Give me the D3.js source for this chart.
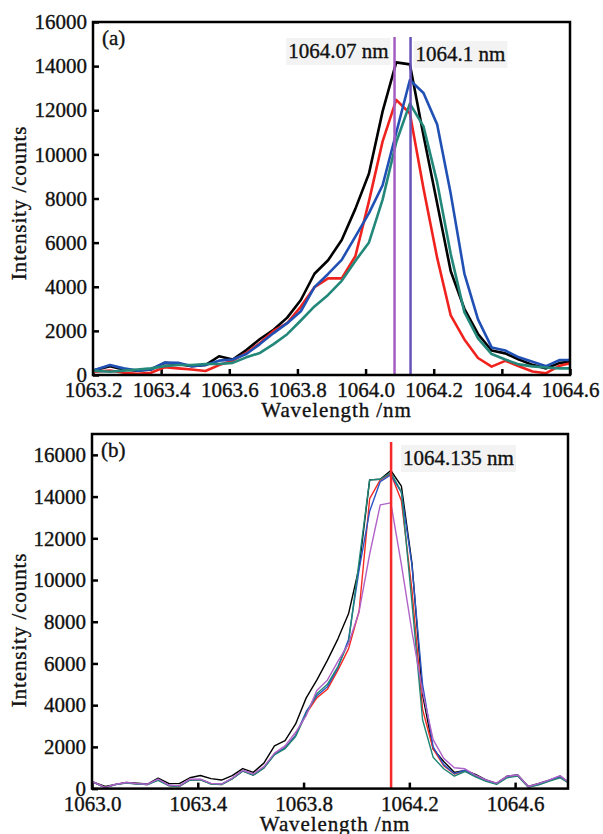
<!DOCTYPE html>
<html lang="en">
<meta charset="utf-8">
<head>
    <title>Laser spectra (a) (b)</title>
    <script src="https://d3js.org/d3.v7.min.js"></script>
    <style>
        body {margin: 0; background: #fff;}
    </style>
</head>
<body>
<div id="chart"></div>
<script>
    // ---- panel (a) data ----
    let wlA = [1063.20, 1063.25, 1063.29, 1063.33, 1063.37, 1063.41, 1063.45, 1063.49, 1063.53, 1063.57,
        1063.61, 1063.65, 1063.69, 1063.73, 1063.77, 1063.81, 1063.85, 1063.89, 1063.93, 1063.97,
        1064.01, 1064.05, 1064.09, 1064.13, 1064.17, 1064.21, 1064.25, 1064.29, 1064.33, 1064.37,
        1064.41, 1064.45, 1064.49, 1064.53, 1064.57, 1064.60];
    let blackA = [200, 400, 250, 200, 250, 550, 500, 400, 450, 850, 700, 1130, 1630, 2050, 2600, 3400, 4590, 5200, 6120, 7530,
        9130, 11950, 14170, 14080, 10860, 7790, 4700, 3000, 1860, 1110, 980, 700, 460, 300, 550, 600];
    let redA = [150, 200, 100, 50, 100, 350, 300, 250, 180, 450, 650, 1000, 1450, 2000, 2350, 3100, 3980, 4380, 4380, 5380,
        7880, 10590, 12470, 11860, 8450, 5320, 2700, 1610, 770, 380, 640, 400, 160, 80, 420, 530];
    let blueA = [200, 450, 300, 200, 250, 560, 550, 400, 450, 650, 700, 950, 1400, 1900, 2350, 2890, 3980, 4580, 5220, 6270,
        7340, 8600, 10980, 13370, 12780, 11360, 8210, 4600, 2520, 1250, 1110, 800, 600, 400, 680, 680];
    let tealA = [200, 150, 200, 250, 300, 400, 450, 450, 500, 500, 550, 800, 1000, 1400, 1850, 2470, 3110, 3630, 4270, 5170,
        6010, 7950, 10550, 12300, 11270, 8740, 5480, 2850, 1660, 950, 700, 480, 390, 340, 300, 300];
    let marksA = [1064.085, 1064.132];
    let markLabelsA = ["1064.07 nm", "1064.1 nm"];
    let xTicksA = [1063.2, 1063.4, 1063.6, 1063.8, 1064.0, 1064.2, 1064.4, 1064.6];

    // ---- panel (b) data ----
    let wlB = [1063.00, 1063.05, 1063.09, 1063.13, 1063.17, 1063.21, 1063.25, 1063.29, 1063.33, 1063.37,
        1063.41, 1063.45, 1063.49, 1063.53, 1063.57, 1063.61, 1063.65, 1063.69, 1063.73, 1063.77,
        1063.81, 1063.85, 1063.89, 1063.93, 1063.97, 1064.01, 1064.05, 1064.09, 1064.13, 1064.17,
        1064.21, 1064.25, 1064.29, 1064.33, 1064.37, 1064.41, 1064.45, 1064.49, 1064.53, 1064.57,
        1064.61, 1064.65, 1064.69, 1064.73, 1064.77, 1064.80];
    let blackB = [330, 100, 200, 300, 260, 220, 500, 250, 240, 520, 630, 480, 410, 620, 960, 780, 1220, 2050, 2300, 3100,
        4350, 5200, 6150, 7180, 8380, 10600, 14800, 14830, 15250, 14500, 10800, 4500, 1900, 1300, 780, 870, 680, 420, 250, 600,
        650, 100, 250, 410, 600, 330];
    let redB = [330, 50, 200, 280, 230, 200, 430, 150, 110, 420, 430, 230, 200, 470, 850, 650, 1000, 1650, 1950, 2550,
        3600, 4350, 4760, 5680, 6700, 8500, 13900, 14800, 15100, 13800, 9500, 3800, 1900, 1100, 700, 850, 600, 380, 230, 560,
        620, 80, 200, 380, 550, 300];
    let blueB = [330, 50, 200, 280, 230, 200, 440, 160, 120, 430, 440, 240, 210, 480, 860, 660, 1000, 1650, 1950, 2550,
        3700, 4450, 4880, 5800, 7150, 10500, 13300, 14720, 15040, 14200, 10700, 5000, 2000, 1150, 720, 880, 620, 400, 240, 580,
        640, 90, 230, 400, 580, 320];
    let tealB = [330, 50, 190, 270, 220, 190, 400, 140, 100, 400, 420, 220, 190, 460, 840, 640, 980, 1620, 1920, 2500,
        3600, 4550, 5000, 5850, 7000, 10900, 14800, 14830, 15150, 14230, 8900, 3300, 1500, 950, 600, 820, 560, 350, 200, 520,
        600, 60, 180, 360, 520, 290];
    let purpleB = [340, 60, 210, 290, 240, 210, 460, 170, 130, 450, 450, 250, 220, 500, 880, 700, 1050, 1700, 2050, 2700,
        3500, 4700, 5200, 6100, 6950, 8480, 11240, 13600, 13700, 10740, 7520, 4660, 2350, 1450, 1000, 950, 650, 420, 260, 600,
        650, 100, 250, 420, 620, 330];
    let marksB = [1064.131];
    let markLabelsB = ["1064.135 nm"];
    let xTicksB = [1063.0, 1063.4, 1063.8, 1064.2, 1064.6];

    let yTicks = [0, 2000, 4000, 6000, 8000, 10000, 12000, 14000, 16000];

    const FONT = "'Liberation Serif', 'DejaVu Serif', serif";

    let svg = d3.select("#chart").append("svg")
        .attr("width", 603)
        .attr("height", 834)
        .style("font-family", FONT);

    // shared text look: the original uses a heavier serif, so give it a thin outline
    function txt(sel, spacing) {
        return sel.style("font-family", FONT)
            .style("font-size", "21px")
            .style("letter-spacing", spacing ? spacing + "px" : null)
            .attr("fill", "#111")
            .attr("stroke", "#111")
            .attr("stroke-width", 0.35);
    }

    function drawPanel(p) {
        let x = d3.scaleLinear().domain(p.xDomain).range([p.left, p.right]);
        let y = d3.scaleLinear().domain(p.yDomain).range([p.bottom, p.top]);
        let g = svg.append("g");

        let xAxis = d3.axisBottom(x).tickValues(p.xTicks).tickSize(-6).tickPadding(7)
            .tickFormat(d3.format(".1f"));
        let yAxis = d3.axisLeft(y).tickValues(yTicks).tickSize(-6).tickPadding(6)
            .tickFormat(d3.format("d"));

        let gx = g.append("g").attr("transform", "translate(0," + p.bottom + ")").call(xAxis);
        let gy = g.append("g").attr("transform", "translate(" + p.left + ",0)").call(yAxis);
        [gx, gy].forEach(a => {
            a.attr("font-family", null).attr("font-size", null);
            a.select(".domain").remove();
            a.selectAll(".tick line").attr("stroke", "#000").attr("stroke-width", 2.5);
            txt(a.selectAll(".tick text"));
        });

        let line = d3.line()
            .x(d => x(d[0]))
            .y(d => y(d[1]));

        p.series.forEach(s => {
            g.append("path")
                .datum(p.wl.map((w, i) => [w, s.values[i]]))
                .attr("fill", "none")
                .attr("stroke", s.color)
                .attr("stroke-width", p.lineWidth)
                .attr("stroke-linejoin", "round")
                .attr("d", line);
        });

        // marker lines and their labels
        p.marks.forEach((m, i) => {
            g.append("line")
                .attr("x1", x(m)).attr("x2", x(m))
                .attr("y1", p.top + p.markGap).attr("y2", p.bottom)
                .attr("stroke", p.markColors[i])
                .attr("stroke-width", 2.5);
            let lab = p.markLabels[i];
            let t = txt(g.append("text"))
                .attr("class", "mark-label")
                .attr("x", x(m) + lab.dx)
                .attr("y", lab.y)
                .attr("text-anchor", lab.anchor)
                .text(lab.text);
            let bb = t.node().getBBox();
            g.insert("rect", "text.mark-label")
                .attr("x", bb.x - 2).attr("y", bb.y - 1)
                .attr("width", bb.width + 4).attr("height", bb.height + 3)
                .attr("fill", "#f3f3f3");
        });

        g.append("rect")
            .attr("x", p.left).attr("y", p.top)
            .attr("width", p.right - p.left).attr("height", p.bottom - p.top)
            .attr("fill", "none")
            .attr("stroke", "#000")
            .attr("stroke-width", 2.5);

        txt(g.append("text"))
            .attr("x", p.left + 9).attr("y", p.top + p.tagDy)
            .text(p.tag);

        txt(g.append("text"), 0.9)
            .attr("x", (p.left + p.right) / 2 + 5)
            .attr("y", p.bottom + p.xTitleDy)
            .attr("text-anchor", "middle")
            .text("Wavelength /nm");

        txt(g.append("text"), 0.9)
            .attr("transform", "translate(26," + p.yTitleY + ") rotate(-90)")
            .attr("text-anchor", "middle")
            .text("Intensity /counts");
    }//drawPanel()

    drawPanel({
        left: 93, right: 570, top: 22, bottom: 375,
        xDomain: [1063.2, 1064.6], yDomain: [0, 16000], xTicks: xTicksA,
        wl: wlA, lineWidth: 2.6,
        series: [
            {values: blackA, color: "#000000"},
            {values: redA, color: "#f0221e"},
            {values: blueA, color: "#2150b4"},
            {values: tealA, color: "#23877a"}
        ],
        marks: marksA, markGap: 15, markColors: ["#a45dc2", "#6652b8"],
        markLabels: [
            {text: markLabelsA[0], dx: -6, y: 58, anchor: "end"},
            {text: markLabelsA[1], dx: 5, y: 61, anchor: "start"}
        ],
        tag: "(a)", tagDy: 23, xTitleDy: 42, yTitleY: 203
    });

    drawPanel({
        left: 92, right: 568, top: 434, bottom: 788.6,
        xDomain: [1063.0, 1064.8], yDomain: [0, 17000], xTicks: xTicksB,
        wl: wlB, lineWidth: 1.4,
        series: [
            {values: blackB, color: "#000000"},
            {values: redB, color: "#f42a22"},
            {values: blueB, color: "#2a55c4"},
            {values: tealB, color: "#1f8676"},
            {values: purpleB, color: "#b062c8"}
        ],
        marks: marksB, markGap: 8, markColors: ["#f42a2a"],
        markLabels: [
            {text: markLabelsB[0], dx: 12, y: 465, anchor: "start"}
        ],
        tag: "(b)", tagDy: 23, xTitleDy: 42, yTitleY: 630
    });
</script>
</body>
</html>
